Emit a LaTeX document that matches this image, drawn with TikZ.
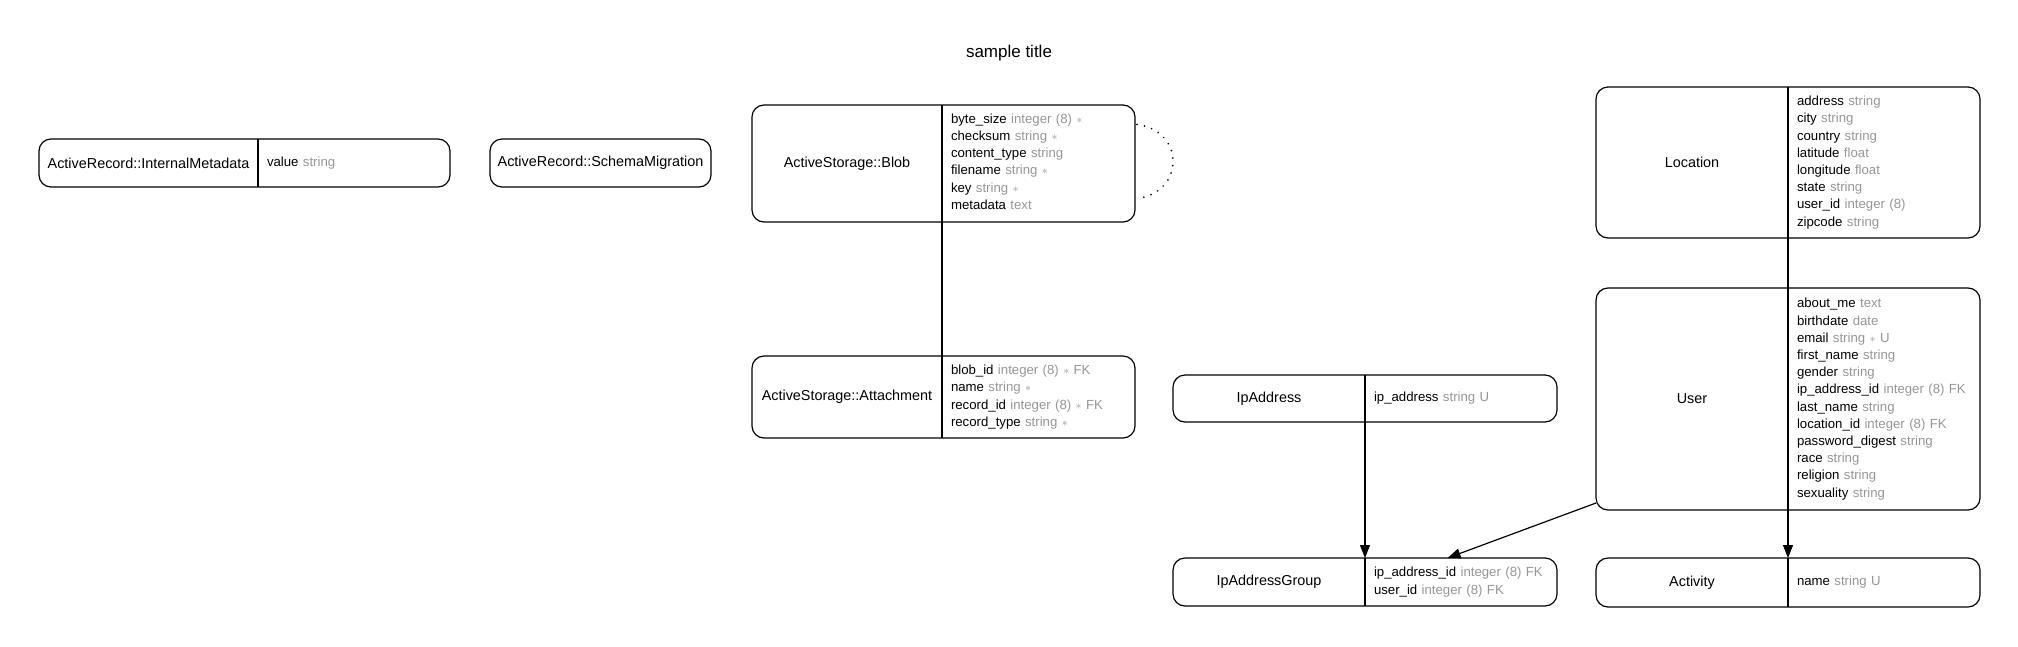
\documentclass[tikz,border=0pt]{standalone}
\usepackage{fontspec}
\setmainfont{Liberation Sans}
\usetikzlibrary{arrows.meta,calc}
\definecolor{typegray}{RGB}{150,150,150}
\newcommand{\ty}[1]{\textcolor{typegray}{#1}}
\newcommand{\nn}{\textcolor{typegray}{\fontsize{12}{12}\selectfont$\ast$}}

\begin{document}
\begin{tikzpicture}[
    x=1pt, y=-1pt,
    every node/.style={outer sep=0pt, inner sep=0pt},
    lbl/.style={font=\fontsize{14.4}{17}\selectfont, anchor=north west},
    attr/.style={font=\fontsize{13.2}{17.2}\selectfont, align=left, inner xsep=9pt, anchor=north west},
    tbl/.style={draw, line width=1.2pt, rounded corners=12pt},
    link/.style={line width=1.2pt},
    arrow/.style={link, -{Triangle[length=13pt,width=10pt]}},
    selfloop/.style={line width=1.8pt, dash pattern=on 0.1pt off 7.5pt, line cap=round}
]
\useasboundingbox (0,0) rectangle (2018,646);

\node[font=\fontsize{17}{20}\selectfont] (title) at (1009,53) {sample title};

\node[lbl, minimum width=219pt, minimum height=48pt] (metaL) at (39,139) {ActiveRecord::InternalMetadata};
\node[attr, text width=174pt, minimum height=48pt] (metaR) at (258,139) {value \ty{string}};
\draw[tbl] (metaL.north west) rectangle (metaR.south east);
\draw[link] (metaL.north east) -- (metaL.south east);

\node[lbl, tbl, minimum width=221pt, minimum height=48pt] (migration) at (490,139) {ActiveRecord::SchemaMigration};

\node[lbl, minimum width=190pt, minimum height=117pt] (blobL) at (752,105) {ActiveStorage::Blob};
\node[attr, text width=175pt, minimum height=117pt] (blobR) at (942,103) {byte\_size \ty{integer (8) \nn}\\checksum \ty{string \nn}\\content\_type \ty{string}\\filename \ty{string \nn}\\key \ty{string \nn}\\metadata \ty{text}};
\draw[tbl] (blobL.north west) rectangle ([yshift=-2pt]blobR.south east);
\draw[link] (blobL.north east) -- (blobL.south east);

\node[lbl, minimum width=190pt, minimum height=82pt] (attachL) at (752,356) {ActiveStorage::Attachment};
\node[attr, text width=175pt, minimum height=82pt] (attachR) at (942,356) {blob\_id \ty{integer (8) \nn{} FK}\\name \ty{string \nn}\\record\_id \ty{integer (8) \nn{} FK}\\record\_type \ty{string \nn}};
\draw[tbl] (attachL.north west) rectangle (attachR.south east);
\draw[link] (attachL.north east) -- (attachL.south east);

\node[lbl, minimum width=192pt, minimum height=47pt] (ipL) at (1173,375) {IpAddress};
\node[attr, text width=174pt, minimum height=47pt] (ipR) at (1365,375) {ip\_address \ty{string U}};
\draw[tbl] (ipL.north west) rectangle (ipR.south east);
\draw[link] (ipL.north east) -- (ipL.south east);

\node[lbl, minimum width=192pt, minimum height=48pt] (ipgroupL) at (1173,558) {IpAddressGroup};
\node[attr, text width=174pt, minimum height=48pt] (ipgroupR) at (1365,558) {ip\_address\_id \ty{integer (8) FK}\\user\_id \ty{integer (8) FK}};
\draw[tbl] (ipgroupL.north west) rectangle (ipgroupR.south east);
\draw[link] (ipgroupL.north east) -- (ipgroupL.south east);

\node[lbl, minimum width=192pt, minimum height=151pt] (locationL) at (1596,87) {Location};
\node[attr, text width=174pt, minimum height=151pt] (locationR) at (1788,87) {address \ty{string}\\city \ty{string}\\country \ty{string}\\latitude \ty{float}\\longitude \ty{float}\\state \ty{string}\\user\_id \ty{integer (8)}\\zipcode \ty{string}};
\draw[tbl] (locationL.north west) rectangle (locationR.south east);
\draw[link] (locationL.north east) -- (locationL.south east);

\node[lbl, minimum width=192pt, minimum height=222pt] (userL) at (1596,288) {User};
\node[attr, text width=174pt, minimum height=222pt] (userR) at (1788,288) {about\_me \ty{text}\\birthdate \ty{date}\\email \ty{string \nn{} U}\\first\_name \ty{string}\\gender \ty{string}\\ip\_address\_id \ty{integer (8) FK}\\last\_name \ty{string}\\location\_id \ty{integer (8) FK}\\password\_digest \ty{string}\\race \ty{string}\\religion \ty{string}\\sexuality \ty{string}};
\draw[tbl] (userL.north west) rectangle (userR.south east);
\draw[link] (userL.north east) -- (userL.south east);

\node[lbl, minimum width=192pt, minimum height=49pt] (activityL) at (1596,558) {Activity};
\node[attr, text width=174pt, minimum height=49pt] (activityR) at (1788,558) {name \ty{string U}};
\draw[tbl] (activityL.north west) rectangle (activityR.south east);
\draw[link] (activityL.north east) -- (activityL.south east);

\draw[selfloop] ([xshift=2pt,yshift=39pt]blobL.east -| blobR.east) .. controls +(48,6) and +(48,-6) .. ([xshift=2pt,yshift=-35pt]blobL.east -| blobR.east);
\draw[link] (blobL.south east) -- (attachR.north west);
\draw[arrow] (ipR.south west) -- (ipgroupR.north west);
\draw[link] (locationR.south west) -- (userR.north west);
\draw[arrow] (userR.south west) -- (activityR.north west);
\draw[arrow] ($(userL.south west)+(0,-7)$) -- ($(ipgroupR.north west)!0.43!(ipgroupR.north east)$);
\end{tikzpicture}
\end{document}
